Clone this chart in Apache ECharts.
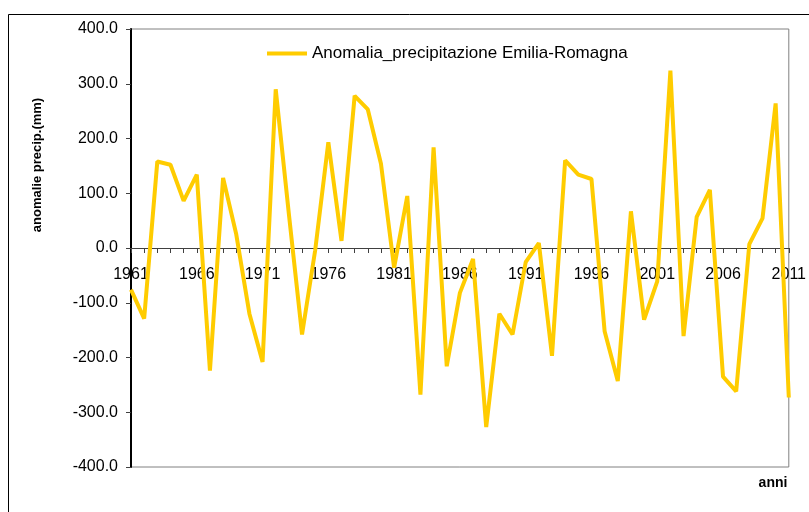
<!DOCTYPE html>
<html>
<head>
<meta charset="utf-8">
<script src="https://cdn.jsdelivr.net/npm/echarts@6/dist/echarts.min.js"></script>
<style>
  html, body { margin: 0; padding: 0; background: #fff; }
  #container { width: 809px; height: 512px; }
</style>
</head>
<body>
<div id="container"></div>
<script>
  // anni
  const years = [
    '1961', '1962', '1963', '1964', '1965', '1966', '1967', '1968', '1969', '1970',
    '1971', '1972', '1973', '1974', '1975', '1976', '1977', '1978', '1979', '1980',
    '1981', '1982', '1983', '1984', '1985', '1986', '1987', '1988', '1989', '1990',
    '1991', '1992', '1993', '1994', '1995', '1996', '1997', '1998', '1999', '2000',
    '2001', '2002', '2003', '2004', '2005', '2006', '2007', '2008', '2009', '2010',
    '2011'
  ]
  // anomalia precipitazione (mm)
  const anomalia = [
    -76, -129, 158, 152, 86, 134, -224, 128, 25, -120,
    -208, 290, 62, -158, -4, 193, 13, 278, 253, 154,
    -36, 95, -268, 184, -216, -82, -20, -327, -120, -158,
    -26, 9, -197, 160, 134, 126, -152, -243, 67, -131,
    -61, 324, -161, 57, 106, -235, -262, 7, 54, 264,
    -273
  ]
  const seriesName = 'Anomalia_precipitazione Emilia-Romagna'
  const font = 'Arial, "Liberation Sans", sans-serif'

  // area del grafico
  const gridTop = 29
  const gridBottom = 45
  const plotHeight = 512 - gridTop - gridBottom

  const myChart = echarts.init(document.getElementById('container'), null, { renderer: 'canvas' })
  const option = {
    backgroundColor: '#fff',
    animation: false,
    textStyle: { fontFamily: font },
    grid: {
      left: 131, right: 16, top: gridTop, bottom: gridBottom,
      show: true, borderColor: '#808080', borderWidth: 1
    },
    legend: {
      data: [{ name: seriesName, icon: 'rect' }],
      left: 267, top: 45, padding: 0,
      itemWidth: 40, itemHeight: 4, itemGap: 4,
      textStyle: { fontSize: 17, color: '#000', fontFamily: font, padding: [0, 0, 0, 0] }
    },
    // cornice esterna + titoli assi
    graphic: [
      {
        type: 'rect', silent: true,
        shape: { x: 8.5, y: 14.5, width: 900, height: 600 },
        style: { fill: 'none', stroke: '#000', lineWidth: 1 }
      },
      {
        type: 'text', x: 37, y: 165, rotation: Math.PI / 2,
        style: {
          text: 'anomalie precip.(mm)', fontSize: 13, fontWeight: 'bold',
          fontFamily: font, fill: '#000', align: 'center', verticalAlign: 'middle'
        }
      },
      {
        type: 'text', x: 773, y: 483,
        style: {
          text: 'anni', fontSize: 14, fontWeight: 'bold',
          fontFamily: font, fill: '#000', align: 'center', verticalAlign: 'middle'
        }
      }
    ],
    xAxis: {
      type: 'category',
      data: years,
      boundaryGap: false,
      position: 'bottom',
      // asse x sullo zero (metà dell'area, scala -400..400)
      offset: -plotHeight / 2,
      axisLine: { onZero: false, lineStyle: { color: '#404040', width: 1 } },
      axisTick: { interval: 0, length: 5, inside: false, lineStyle: { color: '#404040' } },
      axisLabel: { interval: 4, fontSize: 16, color: '#000', margin: 19, fontFamily: font },
      splitLine: { show: false }
    },
    yAxis: {
      type: 'value',
      min: -400, max: 400, interval: 100,
      axisLine: { show: true, lineStyle: { color: '#000', width: 2 } },
      axisTick: { show: true, length: 5, lineStyle: { color: '#404040' } },
      axisLabel: {
        fontSize: 16, color: '#000', margin: 13, fontFamily: font,
        formatter: (v) => v.toFixed(1)
      },
      splitLine: { show: false }
    },
    series: [
      {
        name: seriesName,
        type: 'line',
        data: anomalia,
        symbol: 'none',
        // la linea sta sopra le etichette dell'asse
        zlevel: 1,
        lineStyle: { color: '#FFCC00', width: 4 },
        itemStyle: { color: '#FFCC00' }
      }
    ]
  }
  option && myChart.setOption(option)
</script>
</body>
</html>
